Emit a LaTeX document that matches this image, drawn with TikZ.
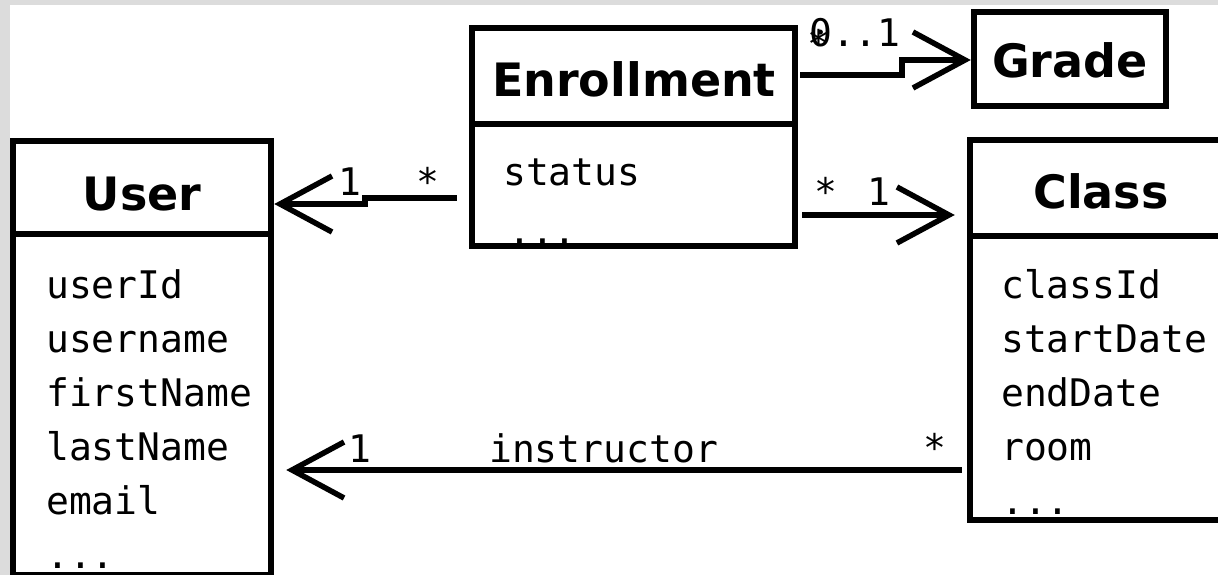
\documentclass[tikz,border=0pt]{standalone}
\usepackage{fontspec}
\setmainfont{DejaVu Sans}
\newfontfamily\umlmono{DejaVu Sans Mono}
\usetikzlibrary{arrows.meta}
\definecolor{bggray}{RGB}{220,220,220}
\begin{document}
\begin{tikzpicture}[x=1pt,y=-1pt,
  classbox/.style={draw=black, line width=6.5pt, fill=white, inner sep=0pt},
  umltitle/.style={font=\bfseries\fontsize{46}{50}\selectfont, inner sep=0pt, anchor=base},
  attr/.style={font=\umlmono\fontsize{38}{44}\selectfont, inner sep=0pt, anchor=base west},
  mult/.style={attr},
  assoc/.style={line width=5.5pt, -{Straight Barb[length=52pt,width=56pt]}},
  sepline/.style={line width=6pt}]
\useasboundingbox (0,0) rectangle (1218,575);
\clip (0,0) rectangle (1218,575);
\fill[bggray] (0,0) rectangle (1218,575);
\fill[white] (10,5) rectangle (1218,575);

% class boxes
\node[classbox, minimum width=258pt, minimum height=434pt] (user) at (142,358) {};
\node[classbox, minimum width=323pt, minimum height=218pt] (enroll) at (633.5,137) {};
\node[classbox, minimum width=192pt, minimum height=94pt] (grade) at (1070,59) {};
\node[classbox, minimum width=270pt, minimum height=380pt] (class) at (1105,330) {};

% compartment separators
\draw[sepline] (13,234) -- (271,234);
\draw[sepline] (472,124) -- (795,124);
\draw[sepline] (970,236) -- (1240,236);

% titles
\node[umltitle] (usert) at (142,210) {User};
\node[umltitle] (enrollt) at (634,97) {Enrollment};
\node[umltitle] (gradet) at (1070,78) {Grade};
\node[umltitle] (classt) at (1101,208) {Class};

% attributes
\foreach \t [count=\i] in {userId,username,firstName,lastName,email}
  \node[attr] (ua\i) at (46,{298+54*(\i-1)}) {\t};
\node[attr] (uadots) at (46,568) {...};
\node[attr] (ea1) at (503,185) {status};
\node[attr] (eadots) at (508,244) {...};
\foreach \t [count=\i] in {classId,startDate,endDate,room}
  \node[attr] (ca\i) at (1001,{298+54*(\i-1)}) {\t};
\node[attr] (cadots) at (1001,514) {...};

% connectors
\coordinate (eu1) at (365,198);
\coordinate (eu2) at (365,204);
\draw[assoc, shorten <=12pt] (enroll.west |- eu1) -- (eu1) -- (eu2) -- (user.east |- eu2);
\coordinate (eg1) at (902,75);
\coordinate (eg2) at (902,60);
\draw[assoc, shorten <=2pt] (enroll.east |- eg1) -- (eg1) -- (eg2) -- (grade.west |- eg2);
\coordinate (ec) at (0,215);
\draw[assoc, shorten <=4pt, shorten >=12pt] (enroll.east |- ec) -- (class.west |- ec);
\coordinate (ci) at (0,470);
\draw[assoc, shorten <=5pt, shorten >=12pt] (class.west |- ci) -- (user.east |- ci);

% multiplicities and role
\node[mult] (m1) at (338,195) {1};
\node[mult] (m2) at (416,195) {*};
\node[mult] (m3) at (809,47) {0..1};
\node[mult] (m4) at (807,58) {*};
\node[mult] (m5) at (814,205) {*};
\node[mult] (m6) at (867,205) {1};
\node[mult] (m7) at (348,462) {1};
\node[mult] (m8) at (489,462) {instructor};
\node[mult] (m9) at (923,461) {*};
\end{tikzpicture}
\end{document}
